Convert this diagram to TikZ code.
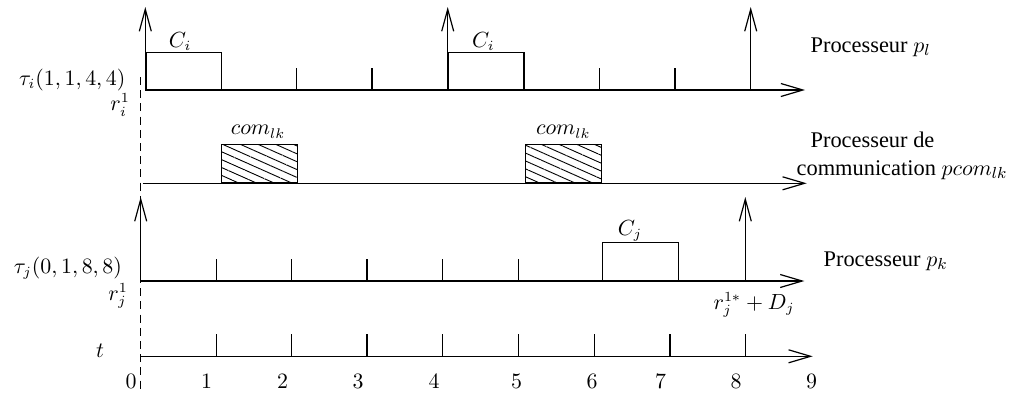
\documentclass[tikz,border=0pt]{standalone}
\usepackage{fontspec}
\setmainfont{Liberation Serif}
\usetikzlibrary{arrows.meta,patterns.meta}
\begin{document}
\begin{tikzpicture}[x=0.5pt,y=-0.5pt,
  every path/.style={line width=0.6pt},
  axis/.style={-{Straight Barb[length=11pt,width=6.5pt,line width=0.6pt]}},
  rel/.style={-{Straight Barb[length=11pt,width=6pt,line width=0.6pt]}},
  job/.style={draw,fill=white},
  comjob/.style={draw,pattern={Lines[angle=-24,distance=3.6pt,line width=0.45pt]}},
  lbl/.style={inner sep=0pt,font=\fontsize{10.5}{12.5}\selectfont},
  txt/.style={inner sep=0pt,font=\fontsize{11.2}{13}\selectfont},
  guide/.style={dash pattern=on 4pt off 2.6pt}]
\useasboundingbox (0,0) rectangle (1031,392);
% ---------- coordinates ----------
\coordinate (l0) at (145.3,90);   \coordinate (lE) at (805,90);
\coordinate (c0) at (142.7,183.3); \coordinate (cE) at (806.7,183.3);
\coordinate (k0) at (140.7,281);  \coordinate (kE) at (804.3,281);
\coordinate (t0) at (140.7,356.3); \coordinate (tE) at (812.7,356.3);
\coordinate (dT) at (140.7,77);   \coordinate (dB) at (140.7,392);
% ---------- dashed guide ----------
\draw[guide] (dT) -- (dB);
% ---------- processor p_l ----------
\node[job,minimum width=37.85pt,minimum height=18.65pt,anchor=south west,inner sep=0pt] (ci1) at (145.3,90) {};
\node[job,minimum width=37.85pt,minimum height=18.65pt,anchor=south west,inner sep=0pt] (ci2) at (447.7,90) {};
\draw[axis] (l0) -- (lE);
\coordinate (la0) at (145.3,7); \draw[rel] (l0) -- (la0);
\coordinate (la4b) at (447.7,90); \coordinate (la4) at (447.7,7); \draw[rel] (la4b) -- (la4);
\coordinate (la8b) at (750.7,90); \coordinate (la8) at (750.7,7); \draw[rel] (la8b) -- (la8);
\foreach \x/\n in {296.7/a,372/b,599.3/c,675/d}{
  \coordinate (lt\n) at (\x,90); \coordinate (lu\n) at (\x,68.3);
  \draw (lt\n) -- (lu\n);}
\node[lbl] (Ci1) at (180,41.7) {$C_i$};
\node[lbl] (Ci2) at (483.3,41.7) {$C_i$};
\node[lbl,anchor=east] (taui) at (126,80) {$\tau_i(1,1,4,4)$};
\node[lbl] (ri) at (120,105) {$r_i^1$};
\node[txt,anchor=west] (pl) at (810,47) {Processeur $p_l$};
% ---------- communication processor ----------
\node[comjob,minimum width=37.85pt,minimum height=19pt,anchor=south west,inner sep=0pt] (com1) at (221,183.3) {};
\node[comjob,minimum width=37.85pt,minimum height=19pt,anchor=south west,inner sep=0pt] (com2) at (525,183.3) {};
\draw[axis] (c0) -- (cE);
\node[lbl] (cl1) at (258,131.7) {$com_{lk}$};
\node[lbl] (cl2) at (563.3,131.7) {$com_{lk}$};
\node[txt,anchor=west] (pc1) at (810,140) {Processeur de};
\node[txt,anchor=west] (pc2) at (796,170) {communication $pcom_{lk}$};
% ---------- processor p_k ----------
\node[job,minimum width=38pt,minimum height=18.85pt,anchor=south west,inner sep=0pt] (cj) at (601.7,281) {};
\draw[axis] (k0) -- (kE);
\coordinate (ka0) at (140.7,197); \draw[rel] (k0) -- (ka0);
\coordinate (ka8b) at (745.3,281); \coordinate (ka8) at (745.3,197); \draw[rel] (ka8b) -- (ka8);
\foreach \x/\n in {216.7/a,291.7/b,367/c,442.7/d,518.7/e}{
  \coordinate (kt\n) at (\x,281); \coordinate (ku\n) at (\x,259.3);
  \draw (kt\n) -- (ku\n);}
\node[lbl] (Cj) at (630,231) {$C_j$};
\node[lbl,anchor=east] (tauj) at (122.5,268) {$\tau_j(0,1,8,8)$};
\node[lbl] (rj) at (118,296) {$r_j^1$};
\node[lbl] (rD) at (754,305) {$r_j^{1*}+D_j$};
\node[txt,anchor=west] (pk) at (823,261) {Processeur $p_k$};
% ---------- time axis ----------
\draw[axis] (t0) -- (tE);
\foreach \x/\n in {216.7/a,291.7/b,367/c,442.7/d,518.7/e,594.3/f,670/g,745.3/h}{
  \coordinate (tt\n) at (\x,356.3); \coordinate (tu\n) at (\x,334.3);
  \draw (tt\n) -- (tu\n);}
\node[lbl] (tl) at (100,351) {$t$};
\foreach \x/\v in {131/0,206.7/1,282.7/2,358/3,434/4,516.7/5,592/6,660.7/7,736/8,811.7/9}{
  \node[lbl] (n\v) at (\x,381) {$\v$};}
\end{tikzpicture}
\end{document}
